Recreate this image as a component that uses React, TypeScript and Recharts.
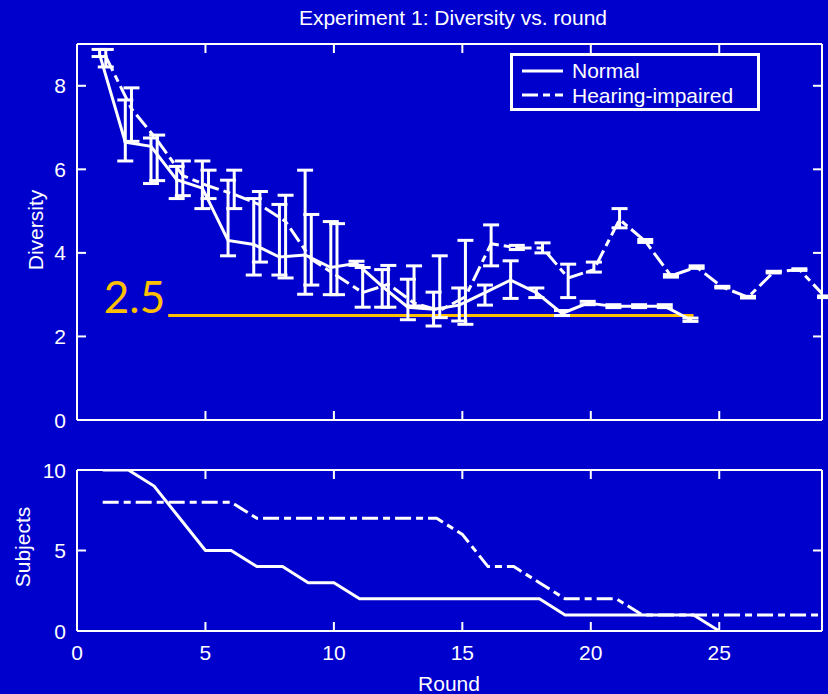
import React from 'react';
import { ComposedChart, Line, XAxis, YAxis, ErrorBar, ReferenceLine } from 'recharts';

const BG = '#0000CC';
const FG = '#FFFFFF';
const GOLD = '#FFC000';
const FONT = '"Liberation Sans", Arial, sans-serif';
const HI_DASH = '16 5 7 5';

// Diversity per round (top panel)
const normalRounds = [1, 2, 3, 4, 5, 6, 7, 8, 9, 10, 11, 12, 13, 14, 15, 16, 17, 18, 19, 20, 21, 22, 23, 24];
const normalMean = [8.75, 6.65, 6.55, 5.75, 5.55, 4.3, 4.2, 3.9, 3.95, 3.65, 3.75, 3.2, 2.7, 2.65, 2.75, 3.05, 3.35, 3.05, 2.55, 2.8, 2.72, 2.72, 2.72, 2.4];
const normalLow = [8.7, 6.2, 5.66, 5.3, 5.06, 3.93, 3.47, 3.47, 3.01, 3.0, 3.7, 2.7, 2.4, 2.25, 2.37, 2.75, 2.91, 2.93, 2.5, 2.76, 2.69, 2.69, 2.69, 2.36];
const normalHigh = [8.87, 7.66, 6.75, 6.07, 6.2, 5.74, 5.3, 5.16, 5.98, 4.75, 3.8, 3.6, 3.37, 3.06, 3.16, 3.23, 3.81, 3.16, 2.62, 2.84, 2.76, 2.76, 2.76, 2.44];

const hiRounds = [1, 2, 3, 4, 5, 6, 7, 8, 9, 10, 11, 12, 13, 14, 15, 16, 17, 18, 19, 20, 21, 22, 23, 24, 25, 26, 27, 28, 29];
const hiMean = [8.7, 7.45, 6.7, 5.85, 5.6, 5.4, 5.15, 4.75, 3.85, 3.45, 3.05, 3.25, 2.8, 2.62, 2.95, 4.22, 4.12, 4.12, 3.4, 3.6, 4.8, 4.28, 3.45, 3.66, 3.18, 2.94, 3.54, 3.6, 2.95];
const hiLow = [8.45, 6.67, 5.73, 5.37, 5.3, 5.06, 3.78, 3.4, 3.23, 3.0, 2.7, 2.7, 2.73, 2.45, 2.29, 3.69, 4.08, 4.0, 2.93, 3.54, 4.6, 4.25, 3.42, 3.63, 3.16, 2.92, 3.52, 3.58, 2.93];
const hiHigh = [8.87, 7.95, 6.82, 6.2, 5.98, 5.98, 5.47, 5.38, 4.92, 4.7, 3.65, 3.7, 3.69, 3.93, 4.3, 4.67, 4.18, 4.24, 3.73, 3.78, 5.06, 4.32, 3.48, 3.69, 3.2, 2.96, 3.56, 3.62, 2.97];

// Subjects per round (bottom panel)
const normalSubjectRounds = [1, 2, 3, 4, 5, 6, 7, 8, 9, 10, 11, 12, 13, 14, 15, 16, 17, 18, 19, 20, 21, 22, 23, 24, 25];
const normalSubjects = [10, 10, 9, 7, 5, 5, 4, 4, 3, 3, 2, 2, 2, 2, 2, 2, 2, 2, 1, 1, 1, 1, 1, 1, 0];
const hiSubjects = [8, 8, 8, 8, 8, 8, 7, 7, 7, 7, 7, 7, 7, 7, 6, 4, 4, 3, 2, 2, 2, 1, 1, 1, 1, 1, 1, 1, 1];

const xTicks = [0, 5, 10, 15, 20, 25];
const diversityTicks = [0, 2, 4, 6, 8];
const subjectTicks = [0, 5, 10];

const threshold = 2.5;
const thresholdFrom = 3.55;
const thresholdTo = 24.0;

// the two groups are dodged a little so their error bars sit side by side
const DODGE = 0.12;

const normalDiversity = normalRounds.map((r, i) => ({
  x: r - DODGE,
  y: normalMean[i],
  err: [normalMean[i] - normalLow[i], normalHigh[i] - normalMean[i]],
}));
const hiDiversity = hiRounds.map((r, i) => ({
  x: r + DODGE,
  y: hiMean[i],
  err: [hiMean[i] - hiLow[i], hiHigh[i] - hiMean[i]],
}));
const normalSubjectData = normalSubjectRounds.map((r, i) => ({ x: r, y: normalSubjects[i] }));
const hiSubjectData = hiRounds.map((r, i) => ({ x: r, y: hiSubjects[i] }));

const TICK = 9;

const BottomTick = (p: any) => {
  const m = p.m || 0;
  return (
    <g>
      <line x1={p.x} x2={p.x} y1={p.y - m} y2={p.y - m - TICK} stroke={FG} strokeWidth={2} />
      {p.showLabel && (
        <text x={p.x} y={p.y} textAnchor="middle" fill={FG} fontSize={21} fontFamily={FONT}>
          {p.payload.value}
        </text>
      )}
    </g>
  );
};

const TopTick = (p: any) => (
  <line x1={p.x} x2={p.x} y1={p.y} y2={p.y + TICK} stroke={FG} strokeWidth={2} />
);

const LeftTick = (p: any) => {
  const m = p.m || 0;
  return (
    <g>
      <line x1={p.x + m} x2={p.x + m + TICK} y1={p.y} y2={p.y} stroke={FG} strokeWidth={2} />
      <text x={p.x} y={p.y} dy="0.36em" textAnchor="end" fill={FG} fontSize={21} fontFamily={FONT}>
        {p.payload.value}
      </text>
    </g>
  );
};

const RightTick = (p: any) => (
  <line x1={p.x} x2={p.x - TICK} y1={p.y} y2={p.y} stroke={FG} strokeWidth={2} />
);

const axisLine = { stroke: FG, strokeWidth: 2 };

const ThresholdLabel = (props: any) => {
  const vb = props.viewBox || {};
  return (
    <text x={vb.x - 3} y={vb.y - 3} textAnchor="end" fill={GOLD} fontSize={44} fontFamily="Lato, 'Open Sans', sans-serif">
      {threshold}
    </text>
  );
};

const Frame = ({ domain, ticks, showX, xMargin, yMargin }: any) => [
  <XAxis
    key="xb"
    xAxisId="b"
    type="number"
    dataKey="x"
    domain={[0, 29]}
    allowDataOverflow
    ticks={xTicks}
    interval={0}
    height={showX ? 63 : 20}
    tickSize={0}
    tickMargin={xMargin}
    tickLine={false}
    axisLine={axisLine}
    tick={(p: any) => <BottomTick {...p} m={xMargin} showLabel={showX} />}
  />,
  <XAxis
    key="xt"
    xAxisId="t"
    orientation="top"
    type="number"
    dataKey="x"
    domain={[0, 29]}
    allowDataOverflow
    ticks={xTicks}
    interval={0}
    height={1}
    tickSize={0}
    tickMargin={0}
    tickLine={false}
    axisLine={axisLine}
    tick={(p: any) => <TopTick {...p} />}
  />,
  <YAxis
    key="yl"
    yAxisId="l"
    type="number"
    domain={domain}
    allowDataOverflow
    ticks={ticks}
    interval={0}
    width={77}
    tickSize={0}
    tickMargin={yMargin}
    tickLine={false}
    axisLine={axisLine}
    tick={(p: any) => <LeftTick {...p} m={yMargin} />}
  />,
  <YAxis
    key="yr"
    yAxisId="r"
    orientation="right"
    type="number"
    domain={domain}
    allowDataOverflow
    ticks={ticks}
    interval={0}
    width={1}
    tickSize={0}
    tickMargin={0}
    tickLine={false}
    axisLine={axisLine}
    tick={(p: any) => <RightTick {...p} />}
  />,
];

const LegendBox = () => (
  <div
    style={{
      position: 'absolute',
      left: 510,
      top: 53,
      width: 250,
      height: 58,
      boxSizing: 'border-box',
      border: `3px solid ${FG}`,
      background: BG,
      color: FG,
      fontFamily: FONT,
      fontSize: 21,
    }}
  >
    <svg width={250} height={52} style={{ position: 'absolute', left: 0, top: 0 }}>
      <line x1={9} x2={50} y1={15} y2={15} stroke={FG} strokeWidth={3} />
      <line x1={9} x2={50} y1={39} y2={39} stroke={FG} strokeWidth={3} strokeDasharray={HI_DASH} />
      <text x={59} y={22} fill={FG} fontSize={21} fontFamily={FONT}>Normal</text>
      <text x={59} y={47} fill={FG} fontSize={21} fontFamily={FONT}>Hearing-impaired</text>
    </svg>
  </div>
);

export default function App() {
  return (
    <div style={{ position: 'absolute', left: 0, top: 0, width: 828, height: 694, background: BG, overflow: 'hidden' }}>
      <div style={{ position: 'absolute', left: 0, top: 0 }}>
        <ComposedChart width={828} height={440} margin={{ top: 43, right: 5, bottom: 0, left: 0 }}>
          {Frame({ domain: [0, 9], ticks: diversityTicks, showX: false, xMargin: 0, yMargin: 11 })}
          <ReferenceLine
            xAxisId="b"
            yAxisId="l"
            segment={[
              { x: thresholdFrom, y: threshold },
              { x: thresholdTo, y: threshold },
            ]}
            stroke={GOLD}
            strokeWidth={3}
            label={ThresholdLabel}
          />
          <Line
            xAxisId="b"
            yAxisId="l"
            data={normalDiversity}
            dataKey="y"
            name="Normal"
            stroke={FG}
            strokeWidth={3}
            dot={false}
            isAnimationActive={false}
          >
            <ErrorBar dataKey="err" direction="y" width={8} stroke={FG} strokeWidth={3} isAnimationActive={false} />
          </Line>
          <Line
            xAxisId="b"
            yAxisId="l"
            data={hiDiversity}
            dataKey="y"
            name="Hearing-impaired"
            stroke={FG}
            strokeWidth={3}
            strokeDasharray={HI_DASH}
            dot={false}
            isAnimationActive={false}
          >
            <ErrorBar dataKey="err" direction="y" width={8} stroke={FG} strokeWidth={3} isAnimationActive={false} />
          </Line>
        </ComposedChart>
      </div>

      <div style={{ position: 'absolute', left: 0, top: 440 }}>
        <ComposedChart width={828} height={254} margin={{ top: 29, right: 5, bottom: 0, left: 0 }}>
          {Frame({ domain: [0, 10], ticks: subjectTicks, showX: true, xMargin: 29, yMargin: 11 })}
          <Line
            xAxisId="b"
            yAxisId="l"
            data={normalSubjectData}
            dataKey="y"
            stroke={FG}
            strokeWidth={3}
            dot={false}
            isAnimationActive={false}
          />
          <Line
            xAxisId="b"
            yAxisId="l"
            data={hiSubjectData}
            dataKey="y"
            stroke={FG}
            strokeWidth={3}
            strokeDasharray={HI_DASH}
            dot={false}
            isAnimationActive={false}
          />
        </ComposedChart>
      </div>

      <svg width={828} height={694} style={{ position: 'absolute', left: 0, top: 0, pointerEvents: 'none' }}>
        <text x={453} y={25} textAnchor="middle" fill={FG} fontSize={21} fontFamily={FONT}>
          Experiment 1: Diversity vs. round
        </text>
        <text x={35} y={230} transform="rotate(-90 35 230)" textAnchor="middle" dominantBaseline="central" fill={FG} fontSize={21} fontFamily={FONT}>
          Diversity
        </text>
        <text x={22} y={547} transform="rotate(-90 22 547)" textAnchor="middle" dominantBaseline="central" fill={FG} fontSize={21} fontFamily={FONT}>
          Subjects
        </text>
        <text x={449} y={691} textAnchor="middle" fill={FG} fontSize={21} fontFamily={FONT}>
          Round
        </text>
      </svg>

      <LegendBox />
    </div>
  );
}
